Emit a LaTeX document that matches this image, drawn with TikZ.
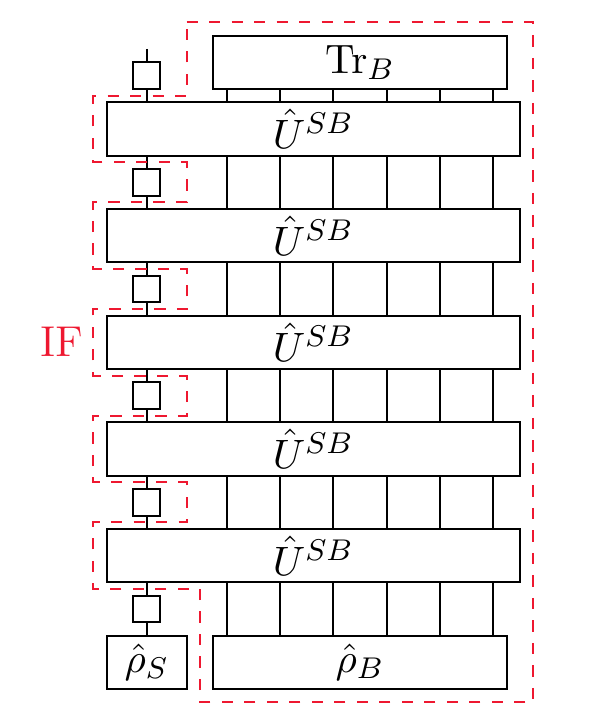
\documentclass[tikz,border=0pt]{standalone}
\usetikzlibrary{calc}
\definecolor{IFred}{RGB}{238,24,48}
\begin{document}
\begin{tikzpicture}[x=0.125cm,y=0.125cm,
  every node/.style={font=\fontsize{11}{13}\selectfont},
  box/.style={draw, line width=0.5pt, inner sep=0pt, outer sep=0pt, minimum height=0.5cm},
  ubox/.style={box, minimum width=3.875cm},
  bbox/.style={box, minimum width=2.75cm},
  sbox/.style={box, minimum width=0.25cm, minimum height=0.25cm},
  rsbox/.style={box, minimum width=0.75cm},
  wire/.style={line width=0.5pt},
  ifline/.style={draw=IFred, line width=0.5pt, dash pattern=on 3pt off 3pt}]
\useasboundingbox (-8.0,7.67) rectangle (36.32,-46.93);

% boxes
\node[bbox] (Tr) at (19,3) {$\mathrm{Tr}_B$};
\foreach \k in {0,...,4}{
  \node[ubox] (U\k) at (15.5,{-2-8*\k}) {$\hat{U}^{SB}$};
}
\node[rsbox] (rS) at (3,-42) {$\hat{\rho}_S$};
\node[bbox] (rB) at (19,-42) {$\hat{\rho}_B$};

% small boxes on the system wire
\node[sbox] (s0) at (3,2) {};
\foreach \k in {1,...,4}{
  \node[sbox] (s\k) at (3,{-6-8*(\k-1)}) {};
}
\node[sbox] (s5) at (3,-38) {};

% system wire
\coordinate (wtop) at (3,4);
\draw[wire] (wtop) -- (s0.north);
\draw[wire] (s0.south) -- (s0.south |- U0.north);
\foreach \k/\n in {0/1,1/2,2/3,3/4}{
  \draw[wire] (s\n.north |- U\k.south) -- (s\n.north);
  \draw[wire] (s\n.south) -- (s\n.south |- U\n.north);
}
\draw[wire] (s5.north |- U4.south) -- (s5.north);
\draw[wire] (s5.south) -- (rS.north);

% bath wires
\foreach \x [count=\i] in {9,13,17,21,25,29}{
  \coordinate (l\i) at (\x,0);
  \draw[wire] (l\i |- Tr.south) -- (l\i |- U0.north);
  \foreach \k/\n in {0/1,1/2,2/3,3/4}{
    \draw[wire] (l\i |- U\k.south) -- (l\i |- U\n.north);
  }
  \draw[wire] (l\i |- U4.south) -- (l\i |- rB.north);
}

% influence functional outline
\draw[ifline] (6,6) -- (32,6) -- (32,-45) -- (7,-45) -- (7,-36.5) -- (-1,-36.5)
  -- (-1,-31.5) -- (6,-31.5) -- (6,-28.5) -- (-1,-28.5)
  -- (-1,-23.5) -- (6,-23.5) -- (6,-20.5) -- (-1,-20.5)
  -- (-1,-15.5) -- (6,-15.5) -- (6,-12.5) -- (-1,-12.5)
  -- (-1,-7.5) -- (6,-7.5) -- (6,-4.5) -- (-1,-4.5)
  -- (-1,0.5) -- (6,0.5) -- cycle;
\node[text=IFred, anchor=east, inner sep=0pt, font=\fontsize{11.5}{14}\selectfont] (IF) at (-1.7,-18) {IF};
\end{tikzpicture}
\end{document}
